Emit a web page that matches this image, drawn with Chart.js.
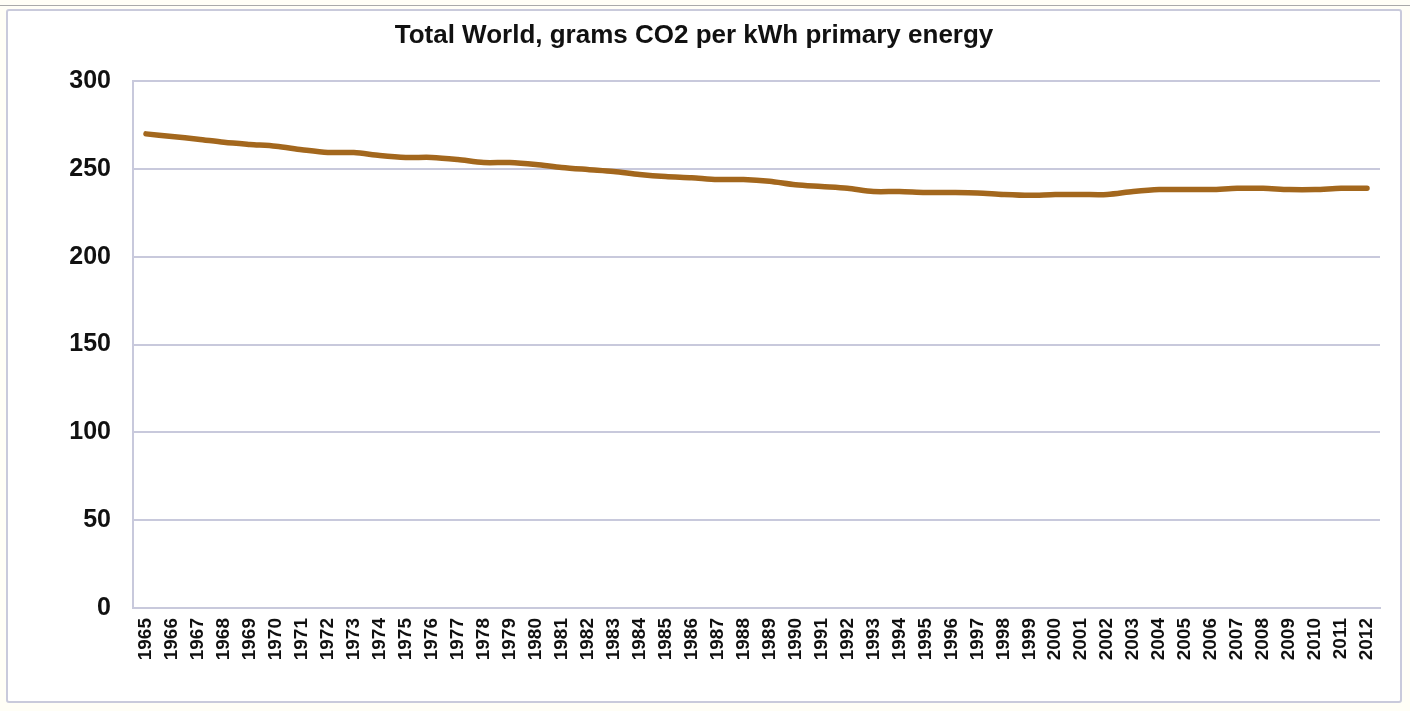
<!DOCTYPE html>
<html>
<head>
<meta charset="utf-8">
<script src="https://cdn.jsdelivr.net/npm/chart.js@4.4.1/dist/chart.umd.min.js"></script>
<style>
    html, body { margin: 0; padding: 0; background: #fffef6; }
    #frame {
        position: absolute;
        left: 6px; top: 9px;
        width: 1392px; height: 690px;
        border: 2px solid #c9cadb;
        border-radius: 3px;
        background: #ffffff;
    }
    #topline { position: absolute; left: 0; top: 5px; width: 1410px; height: 1px; background: #a9a9a9; }
</style>
</head>
<body>
<div id="topline"></div>
<div id="frame"><canvas id="grafico" width="1392" height="690"></canvas></div>
<script>
// anos e valores (g CO2 / kWh)
const anos = [];
for (let a = 1965; a <= 2012; a++) anos.push(String(a));

const valores = [
    270.0, 268.5, 267.0, 265.2, 264.0, 263.0, 261.0, 259.4, 259.4, 257.7,
    256.6, 256.6, 255.4, 253.7, 253.7, 252.6, 250.9, 249.7, 248.6, 246.9,
    245.7, 245.0, 244.0, 244.0, 243.0, 241.0, 240.0, 239.0, 237.2, 237.2,
    236.6, 236.6, 236.4, 235.5, 235.0, 235.5, 235.5, 235.5, 237.2, 238.3,
    238.3, 238.3, 239.0, 239.0, 238.3, 238.3, 239.0, 239.0
];

const ticksY = [0, 50, 100, 150, 200, 250, 300];

const corGrade = "#c8c9dc";
const fonte = "'Liberation Sans', Arial, sans-serif";

const ctx = document.getElementById("grafico").getContext("2d");
new Chart(ctx, {
    type: "line",
    data: {
        labels: anos,
        datasets: [{
            data: valores,
            borderColor: "#a3671d",
            borderWidth: 5.5,
            pointRadius: 0,
            tension: 0.3,
            borderCapStyle: "round",
            fill: false
        }]
    },
    options: {
        responsive: false,
        animation: false,
        layout: { padding: { top: 9, right: 20, left: 0, bottom: 0 } },
        plugins: {
            legend: { display: false },
            tooltip: { enabled: false },
            title: {
                display: true,
                text: "Total World, grams CO2 per kWh primary energy",
                color: "#111",
                font: { family: fonte, size: 26, weight: "bold" },
                padding: { top: 0, bottom: 30 }
            }
        },
        scales: {
            x: {
                offset: true,
                grid: { display: false },
                border: { display: true, color: corGrade, width: 2 },
                ticks: {
                    color: "#111",
                    font: { family: fonte, size: 19, weight: "bold" },
                    maxRotation: 90,
                    minRotation: 90,
                    autoSkip: false,
                    padding: 2
                },
                afterFit: (s) => { s.height = 93; }
            },
            y: {
                min: 0,
                max: 300,
                afterBuildTicks: (s) => { s.ticks = ticksY.map(v => ({ value: v })); },
                grid: { color: corGrade, lineWidth: 2, drawTicks: false },
                border: { display: true, color: corGrade, width: 2 },
                ticks: {
                    color: "#111",
                    font: { family: fonte, size: 25, weight: "bold" },
                    padding: 22
                },
                afterFit: (s) => { s.width = 125; }
            }
        }
    }
});
</script>
</body>
</html>
